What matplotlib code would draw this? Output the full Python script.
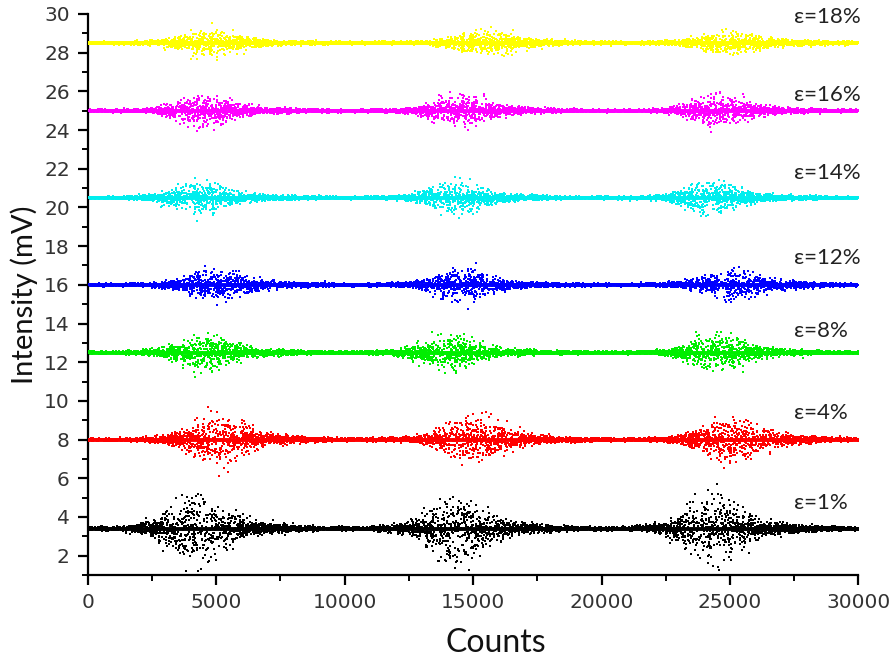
import numpy as np
import matplotlib
matplotlib.use('Agg')
from matplotlib import pyplot as plt
from matplotlib.ticker import MultipleLocator

# series, bottom to top
labels = ['ε=1%', 'ε=4%', 'ε=8%', 'ε=12%', 'ε=14%', 'ε=16%', 'ε=18%']
colors = ['#000000', '#ff0000', '#00ee00', '#0000ff', '#00eeee', '#ff00ff', '#ffff00']
baselines = [3.4, 8.0, 12.5, 16.0, 20.5, 25.0, 28.5]
label_y = [4.7, 9.4, 13.6, 17.4, 21.8, 25.8, 29.85]
# burst centres (counts), three per series
burst_centers = [
    [4200, 14300, 24300],
    [5000, 15000, 25000],
    [4500, 14000, 24500],
    [5000, 14500, 25000],
    [4300, 14300, 24200],
    [4500, 14500, 24500],
    [4800, 15500, 25000],
]
# peak spread of the burst (mV, one sigma) and burst half-width (counts)
burst_sigma = [0.65, 0.45, 0.35, 0.28, 0.30, 0.30, 0.22]
burst_width = [1300, 1300, 1200, 1300, 1200, 1200, 1300]

# scatter texture for each trace (fixed seed)
rng = np.random.default_rng(7)

fig = plt.figure(figsize=(8.96, 6.64), dpi=100)
ax = fig.add_axes([0.098, 0.134, 0.86, 0.845])

for lab, col, base, ly, centers, sig, wid in zip(labels, colors, baselines, label_y,
                                                burst_centers, burst_sigma, burst_width):
    ax.plot([0, 30000], [base, base], color=col, lw=2.8, zorder=2)
    x = rng.uniform(0, 30000, 5000)
    env = np.zeros_like(x)
    for c in centers:
        env += np.exp(-((x - c) / wid) ** 2) + 0.25 * np.exp(-((x - c - 800) / (2.2 * wid)) ** 2)
    y = base + rng.normal(0, 1, x.size) * (0.03 + sig * env)
    ax.scatter(x, y, s=3, marker='s', color=col, linewidths=0, zorder=3)
    ax.text(27500, ly, lab, fontsize=16, color='#222222', family=['Lato', 'DejaVu Sans'],
            ha='left', va='center')

ax.set_xlim(0, 30000)
ax.set_ylim(1, 30)
ax.xaxis.set_major_locator(MultipleLocator(5000))
ax.xaxis.set_minor_locator(MultipleLocator(2500))
ax.yaxis.set_minor_locator(MultipleLocator(1))
ax.set_yticks(range(2, 31, 2))

for s in ['top', 'right']:
    ax.spines[s].set_visible(False)
for s in ['left', 'bottom']:
    ax.spines[s].set_linewidth(1.6)

ax.tick_params(which='major', direction='out', length=7, width=1.6, labelsize=14.5,
               labelcolor='#333333', pad=6)
ax.tick_params(which='minor', direction='out', length=4, width=1.4)

ax.set_xlabel('Counts', fontsize=23, family=['Lato', 'DejaVu Sans'], color='#111111')
ax.xaxis.set_label_coords(0.53, -0.095)
ax.set_ylabel('Intensity (mV)', fontsize=21, family=['Lato', 'DejaVu Sans'], color='#111111', labelpad=4)

fig.savefig('out.png', dpi=100)
